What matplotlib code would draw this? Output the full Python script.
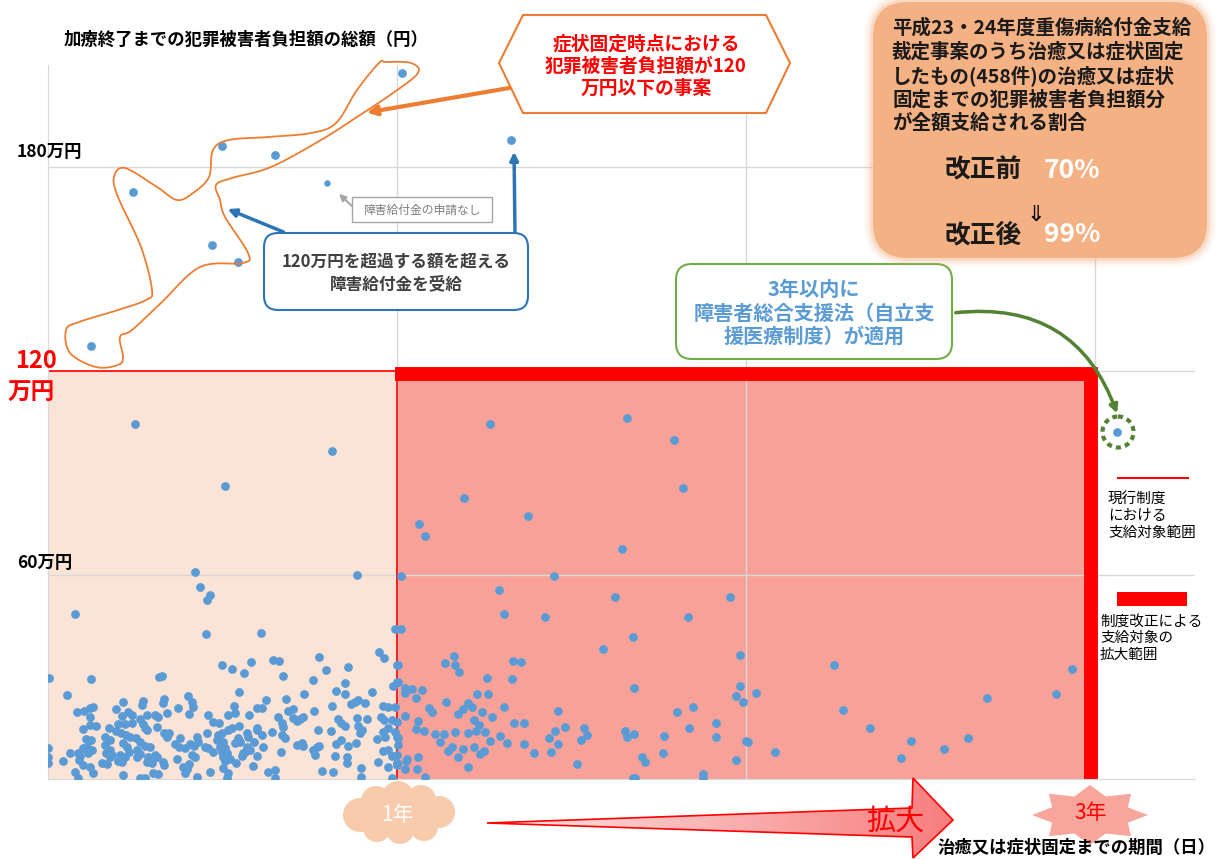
import numpy as np
import matplotlib.pyplot as plt
from matplotlib.patches import Polygon, Rectangle, FancyBboxPatch, Ellipse, FancyArrowPatch
from matplotlib.colors import LinearSegmentedColormap

plt.rcParams['font.family'] = ['Noto Sans CJK JP', 'DejaVu Sans']

# (日数, 負担額[万円])  -- 1年以内
pts_1y = [
    (91, 104.4), (297, 96.5), (185, 86.2), (154, 60.9), (323, 60.0), (159, 56.5), (169, 54.1), (166, 52.6),
    (28, 48.5), (165, 42.6), (223, 42.9), (363, 44.1), (346, 37.4), (352, 35.6), (283, 35.9), (235, 35.0),
    (242, 34.7), (182, 33.5), (192, 32.4), (205, 31.2), (212, 34.4), (314, 32.9), (291, 32.1), (365, 33.5),
    (246, 30.3), (1, 29.7), (45, 29.4), (116, 30.0), (119, 30.3), (277, 29.1), (365, 28.5), (361, 27.4),
    (311, 28.2), (20, 24.7), (200, 25.6), (301, 25.9), (311, 25.0), (339, 25.6), (268, 25.0), (249, 23.5),
    (228, 23.2),
    (78, 22.6), (99, 22.9), (98, 21.8), (121, 23.5), (120, 22.4), (146, 24.4), (151, 22.6), (152, 21.2),
    (47, 21.2), (44, 20.9), (30, 19.7), (38, 20.0), (71, 20.6), (84, 19.7), (88, 18.8), (136, 20.9),
    (147, 19.1), (124, 19.4), (167, 18.8), (44, 18.2), (77, 18.5), (104, 18.8), (112, 18.8), (115, 18.2),
    (96, 17.6), (44, 15.9), (50, 15.6), (73, 16.2), (81, 16.2), (88, 16.5), (99, 16.2), (102, 15.0),
    (114, 15.3), (173, 16.8), (37, 14.7), (64, 15.0), (71, 14.1), (76, 13.5), (82, 12.9), (86, 12.4),
    (104, 14.4), (121, 13.5), (124, 12.4), (127, 13.5), (166, 13.5), (60, 12.4), (65, 11.5), (92, 12.1),
    (96, 10.9), (156, 12.4), (157, 10.9), (138, 12.1), (40, 11.8), (45, 11.5), (78, 10.6), (60, 10.0),
    (107, 9.4), (101, 9.7), (133, 10.3), (137, 9.4), (143, 9.1), (149, 10.3), (153, 9.7), (164, 9.4),
    (167, 9.1), (177, 11.5), (37, 9.1), (41, 9.4), (46, 8.5), (42, 7.6), (65, 8.5), (61, 7.6),
    (83, 9.4), (85, 7.9), (93, 8.5), (96, 7.4), (112, 7.1), (114, 6.5), (0, 9.1), (0, 6.5),
    (0, 4.7), (23, 7.6), (31, 7.6), (33, 6.8), (65, 6.5), (67, 7.1), (75, 7.1), (81, 6.5),
    (93, 6.5), (105, 6.5), (135, 5.9), (151, 7.1), (154, 6.5), (173, 7.9), (16, 5.3), (32, 5.6),
    (37, 4.1), (56, 4.7), (62, 4.4), (44, 3.5), (73, 5.3), (77, 5.0), (104, 5.0), (109, 4.7),
    (120, 5.0), (121, 4.1), (141, 3.5), (145, 2.9), (147, 4.4), (28, 2.1), (47, 1.8), (78, 1.2),
    (110, 1.8), (115, 1.5), (143, 1.8), (169, 2.1), (31, 0.2), (96, 0.2), (101, 0.2), (156, 0.6),
    (195, 21.5), (188, 18.8), (196, 19.4), (219, 20.9), (224, 20.9), (210, 18.8), (241, 18.2), (251, 20.0),
    (256, 20.6), (278, 20.0), (297, 21.5), (317, 22.1), (321, 22.6), (324, 23.2), (332, 22.4), (350, 21.5),
    (356, 21.2), (363, 21.2), (179, 16.5), (192, 15.0), (188, 14.4), (200, 15.6), (219, 15.0), (245, 16.5),
    (246, 15.3), (256, 17.9), (260, 17.1), (264, 17.6), (267, 18.2), (303, 17.6), (307, 16.5), (311, 15.6),
    (323, 17.9), (324, 15.6), (334, 17.6), (348, 18.2), (352, 17.4), (360, 17.4), (365, 16.8), (178, 12.9),
    (182, 13.5), (179, 11.5), (183, 10.9), (180, 9.4), (185, 9.1), (182, 7.9), (187, 7.6), (183, 6.5),
    (199, 12.1), (201, 10.9), (196, 10.6), (208, 13.5), (209, 12.4), (208, 9.4), (206, 7.9), (219, 14.4),
    (215, 10.9), (211, 8.5), (224, 12.9), (225, 9.4), (234, 13.8), (245, 12.9), (248, 12.1), (244, 7.9),
    (260, 10.0), (266, 10.6), (267, 9.7), (277, 8.5), (281, 9.4), (284, 9.7), (279, 7.1), (282, 14.4),
    (296, 14.1), (301, 10.3), (307, 11.5), (314, 9.7), (322, 10.6), (326, 13.5), (328, 14.4), (344, 11.8),
    (350, 13.8), (353, 12.4), (356, 15.0), (363, 13.8), (365, 12.4), (350, 8.2), (356, 8.5), (360, 6.8),
    (365, 7.1), (190, 5.9), (185, 5.3), (197, 4.7), (203, 6.8), (204, 7.6), (219, 6.8), (214, 3.8),
    (300, 6.8), (313, 6.5), (313, 4.7), (345, 5.0), (356, 3.5), (365, 4.7), (183, 3.2), (188, 1.8),
    (187, 0.2), (230, 2.1), (237, 2.6), (238, 0.3), (287, 2.4), (298, 2.1), (327, 3.2), (327, 0.6),
    (360, 0.2), (365, 4.1),
]

# 1年超3年以内
pts_3y = [
    (369, 59.7), (369, 44.1), (366, 33.5), (366, 28.5), (373, 26.8), (373, 25.3), (381, 26.5), (391, 26.2),
    (385, 23.8), (374, 18.5), (387, 17.1), (385, 14.7), (393, 14.1), (366, 12.1), (366, 10.0), (376, 5.9),
    (387, 6.5), (375, 5.3), (374, 2.9), (386, 2.9), (394, 0.6),
    (388, 75.0), (394, 71.5), (435, 82.6), (462, 104.4), (606, 106.2), (655, 99.7), (664, 85.6), (502, 77.4),
    (600, 67.6), (529, 59.7), (472, 55.6), (593, 53.5), (714, 53.5), (477, 48.5), (520, 47.6), (670, 47.6),
    (612, 41.8), (581, 38.2), (724, 36.5), (822, 33.5), (1071, 32.4), (425, 36.2), (415, 34.1), (426, 33.5),
    (430, 31.5), (486, 34.7), (495, 34.4), (485, 29.4), (459, 29.7), (449, 25.0), (460, 25.0), (416, 22.6),
    (439, 22.4), (444, 21.2), (434, 20.6), (429, 19.1), (454, 19.7), (477, 21.2), (399, 20.9), (402, 19.7),
    (464, 18.2), (534, 20.0), (446, 17.4), (451, 15.9), (488, 16.5), (498, 16.5), (541, 15.3), (530, 14.1),
    (426, 13.8), (439, 13.5), (448, 14.1), (457, 13.8), (405, 13.2), (414, 13.2), (410, 10.9), (462, 11.2),
    (473, 12.6), (480, 10.6), (498, 10.3), (524, 12.1), (534, 10.3), (423, 9.4), (418, 8.2), (434, 8.8),
    (446, 9.4), (452, 7.4), (456, 8.2), (429, 6.5), (526, 7.9), (508, 7.6), (439, 3.5), (553, 4.4),
    (561, 15.0), (564, 12.9), (558, 11.5), (604, 14.1), (606, 12.4), (613, 13.2), (644, 12.6), (671, 15.0),
    (699, 16.5), (699, 12.4), (730, 11.2), (732, 10.9), (621, 6.5), (625, 5.0), (643, 7.6), (720, 5.6),
    (612, 0.2), (614, 0.2), (685, 1.5), (685, 0.2), (613, 26.8), (724, 27.4), (720, 24.4), (727, 22.6),
    (741, 25.3), (658, 19.7), (675, 21.2), (761, 7.9), (832, 20.3), (860, 15.0), (903, 11.2), (962, 12.1),
    (937, 8.8), (892, 6.2), (982, 23.8), (1055, 25.0),
]

# 120万円超
pts_over = [(370, 207.6), (182, 186.2), (237, 183.5), (484, 187.9), (89, 172.6), (172, 157.1),
            (199, 152.1), (45, 127.4)]
pt_no_claim = (292, 175.3)      # 障害給付金の申請なし
pt_support = (1118, 102.1)      # 障害者総合支援法が適用

ONE_YEAR, THREE_YEAR = 365, 1095
LIMIT = 120
BORDER_X, BORDER_Y = 1091, 119.1

W, H = 1218, 859
fig = plt.figure(figsize=(W / 100, H / 100), dpi=100)
ax = fig.add_axes([48 / W, 1 - 779 / H, (1195 - 48) / W, (779 - 65) / H])
ax.set_xlim(0, 1200)
ax.set_ylim(0, 210)
ax.set_xticks([ONE_YEAR, 2 * ONE_YEAR, THREE_YEAR])
ax.set_yticks([60, 120, 180])
ax.tick_params(length=0, labelbottom=False, labelleft=False)
ax.grid(True, color='#D9D9D9', lw=1)
ax.set_axisbelow(True)
for s in ['top', 'right']:
    ax.spines[s].set_visible(False)
for s in ['left', 'bottom']:
    ax.spines[s].set_color('#D9D9D9')

ax.add_patch(Rectangle((0, 0), ONE_YEAR, LIMIT, fc='#FBE4D6', ec='none', zorder=0.1))
ax.add_patch(Rectangle((ONE_YEAR, 0), BORDER_X - ONE_YEAR, BORDER_Y, fc='#F8A199', ec='none', zorder=0.1))
ax.plot([0, ONE_YEAR, ONE_YEAR], [LIMIT, LIMIT, 0], color='red', lw=1.2, zorder=1)
ax.plot([363, BORDER_X, BORDER_X], [BORDER_Y, BORDER_Y, 0], color='red', lw=10,
        solid_joinstyle='miter', solid_capstyle='butt', zorder=2)

blue = '#5B9BD5'
for pts in [pts_1y, pts_3y, pts_over, [pt_support]]:
    a = np.array(pts)
    ax.scatter(a[:, 0], a[:, 1], s=40, color=blue, lw=0, zorder=3)
ax.scatter([pt_no_claim[0]], [pt_no_claim[1]], s=22, color=blue, lw=0, zorder=3)

# ---- 注釈レイヤー(画素座標)
ov = fig.add_axes([0, 0, 1, 1], zorder=5)
ov.set_xlim(0, W)
ov.set_ylim(H, 0)
ov.axis('off')

ov.text(64, 40, '加療終了までの犯罪被害者負担額の総額（円）', fontsize=12.5, fontweight='bold', va='center')
ov.text(17, 152, '180万円', fontsize=12.5, fontweight='bold', va='center')
ov.text(17, 563, '60万円', fontsize=12.5, fontweight='bold', va='center')
ov.text(15, 361, '120', fontsize=17, fontweight='bold', color='red', va='center')
ov.text(8, 393, '万円', fontsize=17, fontweight='bold', color='red', va='center')
ov.text(938, 848, '治癒又は症状固定までの期間（日）', fontsize=12.5, fontweight='bold', va='center')


def smooth_closed(pts, n=12):
    P = np.asarray(pts, float)
    out = []
    N = len(P)
    for i in range(N):
        p0, p1, p2, p3 = P[i - 1], P[i], P[(i + 1) % N], P[(i + 2) % N]
        for t in np.linspace(0, 1, n, endpoint=False):
            out.append(0.5 * (2 * p1 + (-p0 + p2) * t + (2 * p0 - 5 * p1 + 4 * p2 - p3) * t * t
                              + (-p0 + 3 * p1 - 3 * p2 + p3) * t ** 3))
    return np.array(out)


blob = [(379, 63), (357, 90), (336, 123), (311, 133), (268, 137), (229, 140), (213, 150), (209, 177),
        (193, 193), (177, 200), (157, 187), (125, 168), (114, 177), (118, 197), (141, 247), (152, 290),
        (146, 300), (118, 310), (79, 322), (66, 330), (70, 353), (96, 367), (118, 365), (123, 357),
        (120, 337), (132, 330), (161, 303), (200, 267), (243, 263), (248, 253), (225, 217), (220, 200),
        (216, 185), (232, 178), (271, 167), (321, 140), (357, 117), (393, 93), (418, 73), (411, 63),
        (386, 62)]
ov.add_patch(Polygon(smooth_closed(blob), closed=True, fill=False, ec='#ED7D31', lw=1.3))

orange = '#ED7D31'
ov.add_patch(FancyArrowPatch((515, 87), (364, 113), arrowstyle='-|>', mutation_scale=14,
                             color=orange, lw=3))
ov.add_patch(Polygon([(499, 63), (523, 15), (766, 15), (790, 63), (766, 113), (523, 113)],
                     fc='white', ec=orange, lw=1.5))
ov.text(646, 66, '症状固定時点における\n犯罪被害者負担額が120\n万円以下の事案', fontsize=13.5,
        fontweight='bold', color='red', ha='center', va='center', linespacing=1.2)

dblue = '#2E75B6'
ov.add_patch(FancyArrowPatch((286, 233), (225, 208), arrowstyle='-|>', mutation_scale=12, color=dblue, lw=2.5))
ov.add_patch(FancyArrowPatch((515, 234), (514, 149), arrowstyle='-|>', mutation_scale=12, color=dblue, lw=2.5))
ov.add_patch(FancyBboxPatch((264, 233), 264, 77, boxstyle='round,pad=0,rounding_size=14',
                            fc='white', ec=dblue, lw=1.5))
ov.text(396, 273, '120万円を超過する額を超える\n障害給付金を受給', fontsize=12, fontweight='bold',
        color='#404040', ha='center', va='center', linespacing=1.3)

ov.add_patch(FancyArrowPatch((354, 208), (337, 192), arrowstyle='-|>', mutation_scale=10,
                             color='#A6A6A6', lw=1.5))
ov.add_patch(Rectangle((352, 197), 140, 25, fc='white', ec='#A6A6A6', lw=1))
ov.text(422, 210, '障害給付金の申請なし', fontsize=8.5, color='#7F7F7F', ha='center', va='center')

green = '#548235'
ov.add_patch(FancyBboxPatch((676, 264), 276, 95, boxstyle='round,pad=0,rounding_size=16',
                            fc='white', ec='#70AD47', lw=1.5))
ov.text(814, 313, '3年以内に\n障害者総合支援法（自立支\n援医療制度）が適用', fontsize=14.5,
        fontweight='bold', color=blue, ha='center', va='center', linespacing=1.15)
ov.add_patch(FancyArrowPatch((953, 313), (1118, 416), connectionstyle='arc3,rad=-0.4',
                             arrowstyle='-|>', mutation_scale=12, color=green, lw=2.5))
ov.add_patch(Ellipse((1118, 432), 31, 31, fill=False, ec=green, lw=3, ls=(0, (1.2, 1.0))))

# 右上の枠
box_c = '#F4B183'
for pad, al in [(9, 0.08), (6, 0.15), (3, 0.3)]:
    ov.add_patch(FancyBboxPatch((873, 2), 334, 256, boxstyle=f'round,pad={pad},rounding_size={35 + pad}',
                                fc=box_c, ec='none', alpha=al))
ov.add_patch(FancyBboxPatch((873, 2), 334, 256, boxstyle='round,pad=0,rounding_size=35',
                            fc=box_c, ec='none'))
ov.text(892, 18, '平成23・24年度重傷病給付金支給\n裁定事案のうち治癒又は症状固定\nしたもの(458件)の治癒又は症状\n'
        '固定までの犯罪被害者負担額分\nが全額支給される割合', fontsize=14, fontweight='bold',
        color='#1A1A1A', ha='left', va='top', linespacing=1.25)
ov.text(945, 170, '改正前', fontsize=18.5, fontweight='bold', color='#1A1A1A', va='center')
ov.text(1044, 170, '70%', fontsize=19, fontweight='bold', color='white', va='center')
ov.text(1036, 214, '⇓', fontsize=16, color='black', ha='center', va='center')
ov.text(945, 235, '改正後', fontsize=18.5, fontweight='bold', color='#1A1A1A', va='center')
ov.text(1044, 235, '99%', fontsize=19, fontweight='bold', color='white', va='center')

# 凡例
ov.plot([1118, 1188], [478, 478], color='red', lw=1.5)
ov.text(1108, 493, '現行制度\nにおける\n支給対象範囲', fontsize=10.5, ha='left', va='top', linespacing=1.2)
ov.add_patch(Rectangle((1117, 592), 70, 14, fc='red', ec='none'))
ov.text(1100, 615, '制度改正による\n支給対象の\n拡大範囲', fontsize=10.5, ha='left', va='top', linespacing=1.2)

# 1年 雲
cloud_c = '#F8CBAD'
for cx, cy, r in [(360, 815, 17), (376, 801, 15), (398, 797, 16), (421, 800, 15), (439, 812, 16),
                  (424, 827, 14), (400, 830, 14), (377, 828, 14)]:
    ov.add_patch(Ellipse((cx, cy), 2 * r, 2 * r, fc=cloud_c, ec='none'))
ov.add_patch(Ellipse((399, 814), 80, 34, fc=cloud_c, ec='none'))
ov.text(397, 815, '1年', fontsize=15, color='white', ha='center', va='center')

# 拡大 矢印
arrow_v = [(487, 823), (912, 808), (913, 778), (953, 820), (913, 858), (912, 837)]
grad = np.linspace(0, 1, 256).reshape(1, -1)
cmap = LinearSegmentedColormap.from_list('pk', ['#FDE6E6', '#F77E7E'])
im = ov.imshow(grad, extent=(487, 953, 858, 778), cmap=cmap, aspect='auto', zorder=1)
clip = Polygon(arrow_v, closed=True, transform=ov.transData)
im.set_clip_path(clip)
ov.add_patch(Polygon(arrow_v, closed=True, fill=False, ec='red', lw=1.2, zorder=2))
ov.text(895, 822, '拡大', fontsize=21, color='red', ha='center', va='center', zorder=3)

# 3年 星
n_pt = 8
ang = np.pi / 2 + np.arange(2 * n_pt) * np.pi / n_pt
rx = np.where(np.arange(2 * n_pt) % 2 == 0, 58, 41)
ry = np.where(np.arange(2 * n_pt) % 2 == 0, 30, 20)
star = np.column_stack([1090 + rx * np.cos(ang), 815 - ry * np.sin(ang)])
ov.add_patch(Polygon(star, closed=True, fc='#F8A59C', ec='none', zorder=1))
ov.text(1091, 813, '3年', fontsize=15, color='red', ha='center', va='center', zorder=3)

ov.set_xlim(0, W)
ov.set_ylim(H, 0)

fig.savefig('out.png', dpi=100)
